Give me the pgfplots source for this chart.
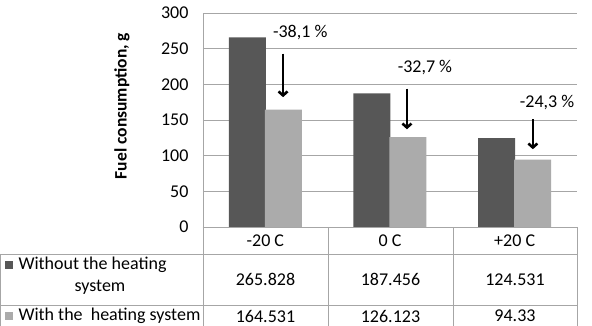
\documentclass[border=0pt]{standalone}
\usepackage{pgfplots}
\pgfplotsset{compat=1.18}
\usepackage{pgfplotstable}
\usetikzlibrary{arrows.meta}
\usepackage{fontspec}
\setmainfont{Carlito}
\definecolor{darkbar}{HTML}{575757}
\definecolor{lightbar}{HTML}{ABABAB}
\definecolor{gridc}{HTML}{A6A6A6}
\pgfplotstableread{
x without with
0 265.828 164.531
1 187.456 126.123
2 124.531 94.33
}\datatable
\begin{document}
\begin{tikzpicture}[font=\fontsize{18}{21}\selectfont]
\useasboundingbox (-203pt,-99pt) rectangle (389pt,227pt);
\begin{axis}[
  scale only axis, width=374pt, height=214pt,
  at={(0,0)}, anchor=south west,
  xmin=-0.5, xmax=2.5, ymin=0, ymax=300,
  ytick={0,50,...,300},
  xtick={0,1,2}, xticklabels={-20 C, 0 C, +20 C},
  xticklabel style={anchor=center, yshift=-14pt},
  yticklabel style={xshift=-11pt},
  /pgf/number format/assume math mode=true,
  major tick length=0pt,
  ymajorgrids, grid style={draw=gridc, line width=0.8pt},
  axis lines*=left,
  axis line style={draw=gridc, line width=0.8pt},
  clip=false,
]
\addplot[ybar, bar width=37pt, bar shift=-18pt, draw=none, fill=darkbar]
  table[x=x, y=without] {\datatable};
\addplot[ybar, bar width=37pt, bar shift=18pt, draw=none, fill=lightbar]
  table[x=x, y=with] {\datatable};
% annotations
\node at (axis cs:0.28,272) {-38,1 \%};
\draw[-{Straight Barb[length=4pt,width=9pt]}, line width=2.6pt] (axis cs:0.142,243) -- (axis cs:0.142,182);
\node at (axis cs:1.28,224) {-32,7 \%};
\draw[-{Straight Barb[length=4pt,width=9pt]}, line width=2.6pt] (axis cs:1.136,194) -- (axis cs:1.136,137);
\node at (axis cs:2.26,174) {-24,3 \%};
\draw[-{Straight Barb[length=4pt,width=9pt]}, line width=2.6pt] (axis cs:2.146,151) -- (axis cs:2.146,109);
\end{axis}
% y label
\node[rotate=90, font=\fontsize{17.5}{20}\selectfont\bfseries] at (-81pt,121pt) {Fuel consumption, g};
% table grid
\begin{scope}[draw=gridc, line width=0.8pt]
\draw (0,0) -- (374pt,0);
\draw (-203pt,-27pt) -- (374pt,-27pt);
\draw (-203pt,-78pt) -- (374pt,-78pt);
\draw (-203pt,-27pt) -- (-203pt,-99pt);
\draw (0,0) -- (0,-99pt);
\draw (125pt,0) -- (125pt,-99pt);
\draw (250pt,0) -- (250pt,-99pt);
\draw (374pt,0) -- (374pt,-99pt);
\end{scope}
% legend swatches
\fill[darkbar] (-198pt,-42pt) rectangle (-190pt,-34pt);
\fill[lightbar] (-198pt,-93pt) rectangle (-190pt,-85pt);
\node[anchor=west] at (-188pt,-38pt) {Without the heating};
\node at (-103pt,-60pt) {system};
\node[anchor=west] at (-188pt,-89pt) {With the\ \ heating system};
% values
\node at (62.5pt,-52.5pt) {265.828};
\node at (187.5pt,-52.5pt) {187.456};
\node at (312pt,-52.5pt) {124.531};
\node at (62.5pt,-89pt) {164.531};
\node at (187.5pt,-89pt) {126.123};
\node at (312pt,-89pt) {94.33};
\end{tikzpicture}
\end{document}
